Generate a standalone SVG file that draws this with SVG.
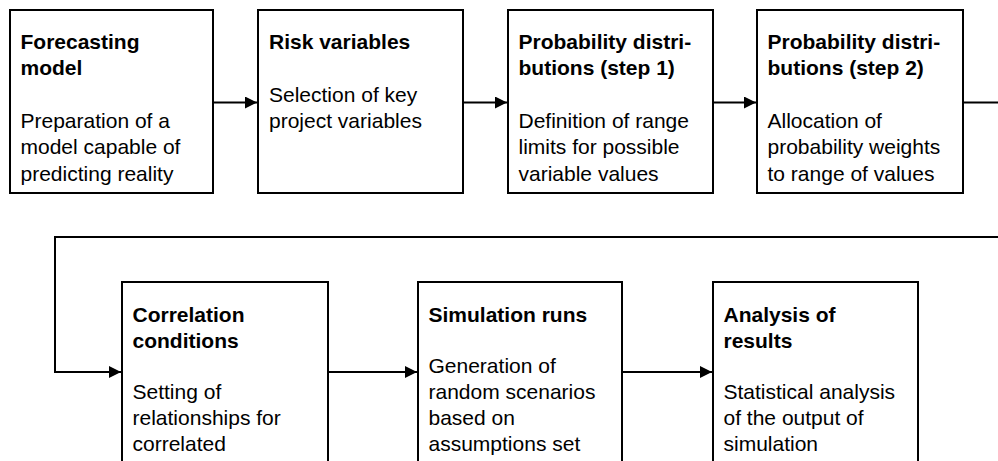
<svg xmlns="http://www.w3.org/2000/svg" width="998" height="461" viewBox="0 0 998 461">
<style>
.box{fill:#fff;stroke:#000;stroke-width:2}
.t{font-family:"Liberation Sans",Arial,sans-serif;font-size:21px;fill:#000}
.b{font-weight:bold}
.c{fill:none;stroke:#000;stroke-width:2}
</style>
<defs>
<marker id="ah" markerWidth="12" markerHeight="12" refX="12" refY="6" orient="auto" markerUnits="userSpaceOnUse">
<path d="M0,0 L12,6 L0,12 Z" fill="#000"/>
</marker>
</defs>
<rect width="998" height="461" fill="#fff"/>
<g id="connectors">
<path class="c" d="M213,102.5 H257" marker-end="url(#ah)"/>
<path class="c" d="M463,102.5 H507" marker-end="url(#ah)"/>
<path class="c" d="M713,102.5 H756" marker-end="url(#ah)"/>
<path class="c" d="M963,102.5 H999"/>
<path class="c" d="M999,237 H55 V372 H121" marker-end="url(#ah)"/>
<path class="c" d="M328,372 H417" marker-end="url(#ah)"/>
<path class="c" d="M622,372 H712" marker-end="url(#ah)"/>
</g>
<g id="n1">
<rect class="box" x="10" y="10" width="203" height="183"/>
<text class="t b" x="20.5" y="49">Forecasting</text>
<text class="t b" x="20.5" y="75.3">model</text>
<text class="t" x="20.5" y="127.9">Preparation of a</text>
<text class="t" x="20.5" y="154.2">model capable of</text>
<text class="t" x="20.5" y="180.5">predicting reality</text>
</g>
<g id="n2">
<rect class="box" x="258" y="10" width="205" height="183"/>
<text class="t b" x="269" y="49">Risk variables</text>
<text class="t" x="269" y="101.6">Selection of key</text>
<text class="t" x="269" y="127.9">project variables</text>
</g>
<g id="n3">
<rect class="box" x="508" y="10" width="205" height="183"/>
<text class="t b" x="518.5" y="49">Probability distri-</text>
<text class="t b" x="518.5" y="75.3">butions (step 1)</text>
<text class="t" x="518.5" y="127.9">Definition of range</text>
<text class="t" x="518.5" y="154.2">limits for possible</text>
<text class="t" x="518.5" y="180.5">variable values</text>
</g>
<g id="n4">
<rect class="box" x="757" y="10" width="206" height="183"/>
<text class="t b" x="767.5" y="49">Probability distri-</text>
<text class="t b" x="767.5" y="75.3">butions (step 2)</text>
<text class="t" x="767.5" y="127.9">Allocation of</text>
<text class="t" x="767.5" y="154.2">probability weights</text>
<text class="t" x="767.5" y="180.5">to range of values</text>
</g>
<g id="n5">
<rect class="box" x="122" y="282" width="206" height="190"/>
<text class="t b" x="132.5" y="322">Correlation</text>
<text class="t b" x="132.5" y="348">conditions</text>
<text class="t" x="132.5" y="398.5">Setting of</text>
<text class="t" x="132.5" y="424.5">relationships for</text>
<text class="t" x="132.5" y="450.5">correlated</text>
</g>
<g id="n6">
<rect class="box" x="418" y="282" width="204" height="190"/>
<text class="t b" x="428.5" y="322">Simulation runs</text>
<text class="t" x="428.5" y="372.5">Generation of</text>
<text class="t" x="428.5" y="398.5">random scenarios</text>
<text class="t" x="428.5" y="424.5">based on</text>
<text class="t" x="428.5" y="450.5">assumptions set</text>
</g>
<g id="n7">
<rect class="box" x="713" y="282" width="205" height="190"/>
<text class="t b" x="723.5" y="322">Analysis of</text>
<text class="t b" x="723.5" y="348">results</text>
<text class="t" x="723.5" y="398.5">Statistical analysis</text>
<text class="t" x="723.5" y="424.5">of the output of</text>
<text class="t" x="723.5" y="450.5">simulation</text>
</g>
</svg>
